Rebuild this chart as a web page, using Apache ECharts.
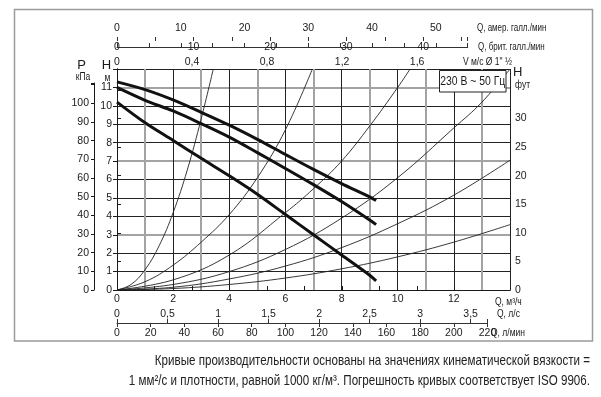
<!DOCTYPE html>
<html><head><meta charset="utf-8">
<script src="https://cdn.jsdelivr.net/npm/echarts@6/dist/echarts.min.js"></script>
<style>html,body{margin:0;padding:0;background:#fff}#c{width:601px;height:397px}</style>
</head><body><div id="c"></div>
<script>
// ---------- data ----------
const qLabels = [0, 2, 4, 6, 8, 10, 12];               // Q, m3/h
const hLabels = [0,1,2,3,4,5,6,7,8,9,10,11];           // H, m
const kpaLabels = [0,10,20,30,40,50,60,70,80,90,100];   // P, kPa
const ftLabels = [0,5,10,15,20,25,30];                 // H, ft
const vTicks = [0,0.2,0.4,0.6,0.8,1.0,1.2,1.4,1.6,1.8];
const vLabels = [0,0.4,0.8,1.2,1.6];                   // V m/s
const usGalLabels = [0,10,20,30,40,50];
const impGalLabels = [0,10,20,30,40];
const lpsLabels = [0,0.5,1,1.5,2,2.5,3,3.5];
const lpmLabels = [0,20,40,60,80,100,120,140,160,180,200,220];

const pumpHigh = [[0,11.3],[1,10.88],[2,10.32],[3,9.65],[4,8.95],[5,8.18],[6,7.36],[7,6.55],[8,5.78],[9,5.06],[9.23,4.86]];
const pumpMid  = [[0,11.0],[1,10.3],[2,9.72],[3,9.03],[4,8.3],[5,7.46],[6,6.6],[7,5.72],[8,4.8],[9,3.8],[9.23,3.55]];
const pumpLow  = [[0,10.2],[1,9.08],[2,8.12],[3,7.15],[4,6.2],[5,5.2],[6,4.1],[7,3.0],[8,1.9],[9,0.8],[9.23,0.5]];

const sysA = [[0,0],[0.5,0.3],[1,1.1],[1.5,2.4],[2,4.2],[2.5,6.5],[3,9.3],[3.43,12]];
const sysB = [[0,0],[1,0.45],[2,1.35],[3,2.6],[4,4.1],[5,6.1],[6,8.7],[6.96,12]];
const sysC = [[0,0],[2,0.55],[4,1.9],[6,4.2],[7,5.5],[8,7.0],[9,8.9],[10,11.0],[10.44,12]];
const sysD = [[0,0],[2,0.3],[4,1.0],[6,2.2],[8,3.9],[10,6.1],[12,8.8],[13,10.2],[14,12]];
const sysE = [[0,0],[2,0.15],[4,0.6],[6,1.3],[8,2.3],[10,3.6],[12,5.15],[14,7.05]];
const sysF = [[0,0],[2,0.08],[4,0.3],[6,0.65],[8,1.15],[10,1.8],[12,2.6],[14,3.55]];

// ---------- scale constants ----------
const Q_MAX = 14, H_MAX = 12, FT_MAX = 38.68, V_MAX = 2.095, KPA_MAX = 110.9;
const US_MAX = 55, IMP_MAX = 55 * 0.22712 / 0.27277, LPM_MAX = 220, LPS_MAX = 220 / 60;

const FONT = "'Liberation Sans', Arial, sans-serif";
const INK = '#1a1a1a';
const comma = v => String(+v.toFixed(2)).replace('.', ',');
const lbl = (o) => Object.assign({color: INK, fontFamily: FONT, fontSize: 10.5}, o);

const chart = echarts.init(document.getElementById('c'), null, {renderer: 'canvas'});

const thin = (d) => ({type:'line', data:d, xAxisIndex:0, yAxisIndex:0, symbol:'none', smooth:0.4,
  lineStyle:{color:'#222', width:0.9}, silent:true, z:3});
const thick = (d) => ({type:'line', data:d, xAxisIndex:0, yAxisIndex:0, symbol:'none', smooth:0.3,
  lineStyle:{color:'#111', width:3}, silent:true, z:4});

// text element with horizontal condensing (scaleX) to imitate a narrow typeface
const txt = (t, x, y, size, align, sx, z, fill) => ({type:'text', z:z||50, x:x, y:y, scaleX:sx||0.82,
  style:{text:t, x:0, y:0, fontFamily:FONT, fontSize:size, fill:fill||INK,
  textAlign:align||'left', textVerticalAlign:'middle'}});

chart.setOption({
  animation:false,
  backgroundColor:'#fff',
  grid:[
    {left:117, top:69, width:393, height:221},
    {left:117, top:37, width:350.7, height:10},
    {left:117, top:313, width:370.5, height:10},
    {left:94, top:83, width:10, height:207}
  ],
  xAxis:[
    {gridIndex:0, type:'value', position:'bottom', min:0, max:Q_MAX, interval:2,
     axisLine:{show:true, lineStyle:{color:INK, width:1}}, axisTick:{show:false},
     axisLabel:lbl({customValues:qLabels, margin:4}),
     splitLine:{show:true, lineStyle:{color:'#222', width:1}}},
    {gridIndex:0, type:'value', position:'bottom', min:0, max:Q_MAX, interval:1,
     axisLine:{show:false}, axisTick:{show:false}, axisLabel:{show:false},
     splitLine:{show:true, lineStyle:{color:['rgba(0,0,0,0)','#a3a3a3'], width:2}}},
    {gridIndex:0, type:'value', position:'top', min:0, max:V_MAX,
     axisLine:{show:true, lineStyle:{color:INK, width:1}},
     axisTick:{show:true, customValues:vTicks, length:4, lineStyle:{color:INK}},
     axisLabel:lbl({customValues:vLabels, formatter:comma, margin:1}),
     splitLine:{show:false}},
    {gridIndex:1, type:'value', position:'top', min:0, max:US_MAX, interval:5,
     axisLine:{show:true, lineStyle:{color:'#333', width:1}},
     axisTick:{show:true, length:4, lineStyle:{color:'#333'}},
     axisLabel:lbl({customValues:usGalLabels, margin:3}), splitLine:{show:false}},
    {gridIndex:1, type:'value', position:'top', min:0, max:IMP_MAX, interval:5,
     axisLine:{show:false},
     axisTick:{show:true, inside:true, length:4, lineStyle:{color:'#333'}},
     axisLabel:lbl({customValues:impGalLabels, inside:true, margin:5}), splitLine:{show:false}},
    {gridIndex:2, type:'value', position:'bottom', min:0, max:LPS_MAX, interval:0.5,
     axisLine:{show:true, lineStyle:{color:'#333', width:1}},
     axisTick:{show:true, inside:true, length:4, lineStyle:{color:'#333'}},
     axisLabel:lbl({customValues:lpsLabels, inside:true, formatter:comma, margin:3}), splitLine:{show:false}},
    {gridIndex:2, type:'value', position:'bottom', min:0, max:LPM_MAX, interval:20,
     axisLine:{show:false},
     axisTick:{show:true, length:4, lineStyle:{color:'#333'}},
     axisLabel:lbl({customValues:lpmLabels, margin:5}), splitLine:{show:false}},
    {gridIndex:3, type:'value', show:false, min:0, max:1}
  ],
  yAxis:[
    {gridIndex:0, type:'value', position:'left', min:0, max:H_MAX, interval:1,
     axisLine:{show:true, lineStyle:{color:INK, width:1}},
     axisTick:{show:true, length:4, lineStyle:{color:INK}},
     axisLabel:lbl({customValues:hLabels, margin:5}),
     splitLine:{show:true, lineStyle:{color:'#222', width:1}}},
    {gridIndex:0, type:'value', position:'left', min:0, max:H_MAX, interval:1,
     axisLine:{show:false}, axisTick:{show:false}, axisLabel:{show:false},
     splitLine:{show:true, lineStyle:{color:['rgba(0,0,0,0)','rgba(0,0,0,0)','rgba(0,0,0,0)','#a3a3a3'], width:2}}},
    {gridIndex:0, type:'value', position:'right', min:0, max:FT_MAX, interval:5,
     axisLine:{show:true, lineStyle:{color:INK, width:1}},
     axisTick:{show:true, length:4, lineStyle:{color:INK}},
     axisLabel:lbl({customValues:ftLabels, margin:5}), splitLine:{show:false}},
    {gridIndex:1, type:'value', show:false, min:0, max:1},
    {gridIndex:2, type:'value', show:false, min:0, max:1},
    {gridIndex:3, type:'value', position:'left', min:0, max:KPA_MAX, interval:10,
     axisLine:{show:true, lineStyle:{color:INK, width:1}},
     axisTick:{show:true, length:3, lineStyle:{color:INK}},
     axisLabel:lbl({customValues:kpaLabels, margin:5}), splitLine:{show:false}}
  ],
  series:[
    thin(sysA), thin(sysB), thin(sysC), thin(sysD), thin(sysE), thin(sysF),
    thick(pumpHigh), thick(pumpMid), thick(pumpLow)
  ],
  graphic:[
    {type:'rect', z:0, shape:{x:14.5, y:9.5, width:578, height:331.5},
     style:{fill:'none', stroke:'#9a9a9a', lineWidth:1.5}},
    {type:'rect', z:60, shape:{x:439.5, y:70.5, width:66.5, height:21.5},
     style:{fill:'#fff', stroke:'#222', lineWidth:1}},
    txt('230 В ~ 50 Гц', 472.7, 81.5, 13, 'center', 0.8, 61),
    txt('P', 81.5, 65, 13, 'center', 1),
    txt('кПа', 83, 77.5, 10, 'center', 0.85),
    txt('H', 106.5, 65, 13, 'center', 1),
    txt('м', 107.5, 78, 10, 'center', 0.85),
    txt('H', 513, 72, 13, 'left', 1),
    txt('фут', 515, 85, 10, 'left', 0.85),
    txt('Q, амер. галл./мин', 477, 28, 10, 'left', 0.8),
    txt('Q, брит. галл./мин', 478, 47, 10, 'left', 0.8),
    txt('V м/с Ø 1" ½', 463, 62, 10, 'left', 0.85),
    txt('Q, м³/ч', 495, 302, 10, 'left', 0.85),
    txt('Q, л/с', 497, 314.5, 10, 'left', 0.85),
    txt('Q, л/мин', 491, 333, 10, 'left', 0.85),
    txt('Кривые производительности основаны на значениях кинематической вязкости =', 590, 361, 14.5, 'right', 0.8, 50, '#222'),
    txt('1 мм²/с и плотности, равной 1000 кг/м³. Погрешность кривых соответствует ISO 9906.', 590, 381, 14.5, 'right', 0.8, 50, '#222')
  ]
});
</script></body></html>
